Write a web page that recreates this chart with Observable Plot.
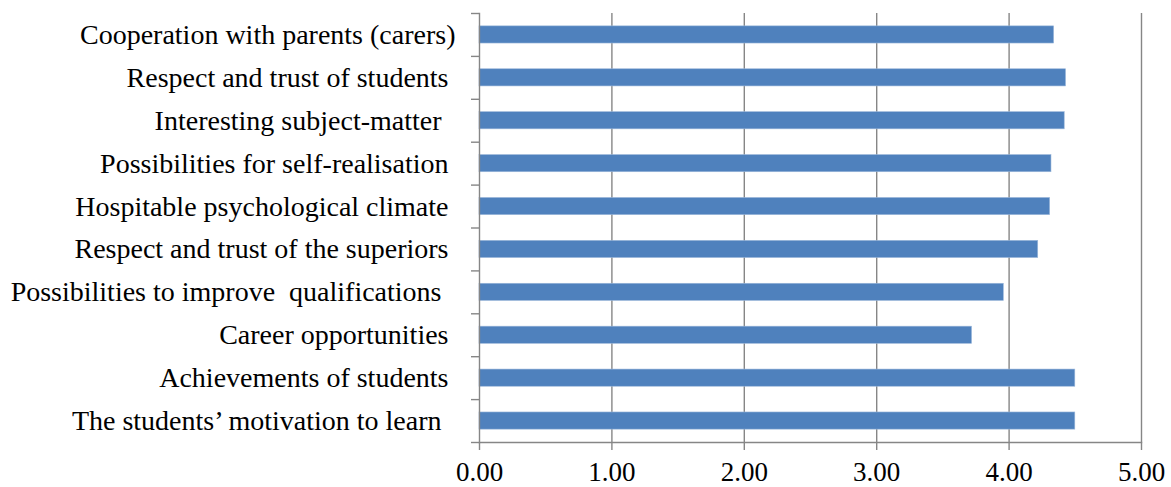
<!DOCTYPE html>
<html>
<head>
<meta charset="utf-8">
<script src="https://cdn.jsdelivr.net/npm/d3@7"></script>
<script src="https://cdn.jsdelivr.net/npm/@observablehq/plot@0.6"></script>
<style>
  html, body { margin: 0; padding: 0; background: #fff; }
  svg text { white-space: pre; }
</style>
</head>
<body>
<div id="chart"></div>
<script>
// Categories, top to bottom (trailing spaces as in the original labels)
const categories = [
  "Cooperation with parents (carers)",
  "Respect and trust of students ",
  "Interesting subject-matter  ",
  "Possibilities for self-realisation ",
  "Hospitable psychological climate ",
  "Respect and trust of the superiors ",
  "Possibilities to improve  qualifications  ",
  "Career opportunities ",
  "Achievements of students ",
  "The students’ motivation to learn  "
];
const values = [4.34, 4.43, 4.42, 4.32, 4.31, 4.22, 3.96, 3.72, 4.50, 4.50];
const xTicks = [0, 1, 2, 3, 4, 5];

const data = categories.map((c, i) => ({category: c, value: values[i]}));

const W = 1171, H = 487;
const mTop = 13, mBottom = 45, mLeft = 479, mRight = 30;
const step = (H - mTop - mBottom) / categories.length;
const gray = "#868686";

const chart = Plot.plot({
  width: W,
  height: H,
  marginLeft: mLeft,
  marginRight: mRight,
  marginTop: mTop,
  marginBottom: mBottom,
  style: {fontFamily: "'Liberation Serif', 'Times New Roman', serif", fontSize: "28px", color: "#000", background: "#fff"},
  x: {domain: [0, 5], axis: null},
  y: {domain: categories, paddingInner: 0.6, paddingOuter: 0.3, round: false, axis: null},
  marks: [
    Plot.gridX(xTicks.filter(d => d > 0), {stroke: gray, strokeOpacity: 1, strokeWidth: 1.4}),
    Plot.barX(data, {x: "value", y: "category", fill: "#4F81BD", stroke: "#9bb7da", strokeWidth: 0.6}),
    Plot.frame({anchor: "left", stroke: gray, strokeWidth: 1.4}),
    Plot.frame({anchor: "bottom", stroke: gray, strokeWidth: 1.4}),
    Plot.axisX({ticks: xTicks, tickFormat: d => d.toFixed(2), tickSize: 8, tickPadding: 11,
      stroke: gray, strokeWidth: 1.4, fill: "#000", fontSize: 27, label: null}),
    Plot.axisY({tickSize: 0, tickPadding: 24, fontSize: 28, fill: "#000", label: null}),
    Plot.axisY({tickSize: 8, tickFormat: () => "", dy: -step / 2, stroke: gray, strokeWidth: 1.4, label: null}),
    Plot.axisY({ticks: [categories[categories.length - 1]], tickSize: 8, tickFormat: () => "", dy: step / 2, stroke: gray, strokeWidth: 1.4, label: null})
  ]
});
document.getElementById("chart").append(chart);
</script>
</body>
</html>
